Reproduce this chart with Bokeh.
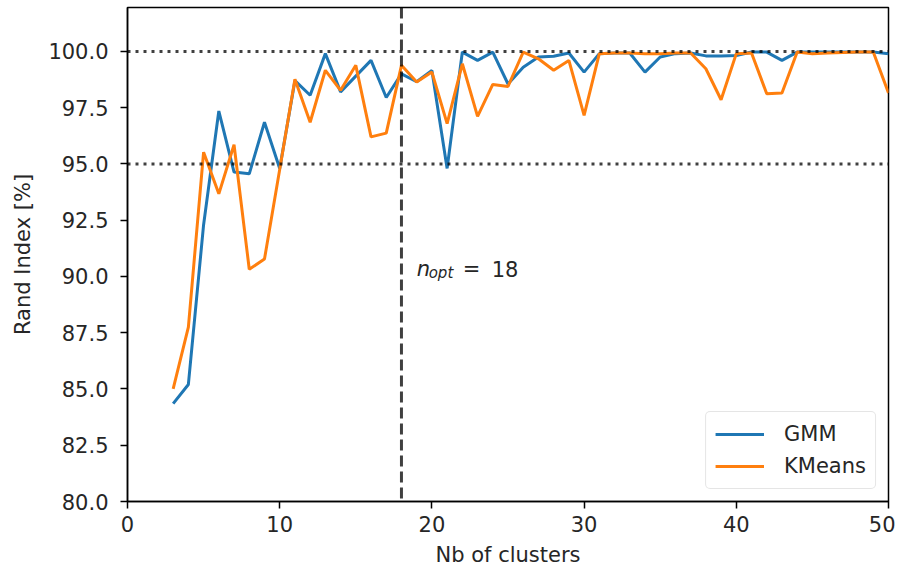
from bokeh.plotting import figure
from bokeh.models import Range1d, Span, Label, Legend, LegendItem, FixedTicker, NumeralTickFormatter, ColumnDataSource
from bokeh.embed import file_html
from bokeh.resources import INLINE

n_clusters = list(range(3, 51))
gmm = [84.35, 85.2, 92.3, 97.35, 94.64, 94.56, 96.85, 94.8, 98.7, 98.05,
       99.9, 98.2, 98.9, 99.6, 97.95, 99.0, 98.65, 99.15, 94.8, 99.97,
       99.6, 99.97, 98.55, 99.3, 99.75, 99.78, 99.93, 99.08, 99.9, 99.93,
       99.93, 99.08, 99.75, 99.9, 99.93, 99.8, 99.8, 99.82, 99.97, 99.97,
       99.6, 99.97, 99.97, 99.97, 99.97, 99.97, 99.97, 99.9]
kmeans = [85.0, 87.75, 95.52, 93.67, 95.85, 90.32, 90.77, 94.75, 98.76, 96.85,
          99.16, 98.27, 99.38, 96.2, 96.37, 99.38, 98.64, 99.08, 96.79, 99.45,
          97.11, 98.53, 98.44, 99.97, 99.67, 99.16, 99.6, 97.16, 99.9, 99.93,
          99.93, 99.9, 99.9, 99.93, 99.93, 99.23, 97.85, 99.9, 99.93, 98.12,
          98.15, 99.97, 99.9, 99.93, 99.95, 99.97, 99.97, 98.15]
x_ticks = [0, 10, 20, 30, 40, 50]
y_ticks = [80.0, 82.5, 85.0, 87.5, 90.0, 92.5, 95.0, 97.5, 100.0]
thresholds = [100.0, 95.0]
n_opt = 18

FONT = "DejaVu Sans"
FS = "21px"

p = figure(width=895, height=576, output_backend="svg", toolbar_location=None,
           x_range=Range1d(0, 50), y_range=Range1d(80, 101.95),
           min_border_left=127, min_border_right=7, min_border_top=7, min_border_bottom=75)
p.xgrid.visible = False
p.ygrid.visible = False
p.outline_line_color = "black"
p.outline_line_width = 1.5

src = ColumnDataSource(dict(n=n_clusters, gmm=gmm, km=kmeans))
r1 = p.line("n", "gmm", source=src, line_color="#1f77b4", line_width=3)
r2 = p.line("n", "km", source=src, line_color="#ff7f0e", line_width=3)

for t in thresholds:
    p.add_layout(Span(location=t, dimension="width", line_color="black", line_alpha=0.75,
                      line_width=3, line_dash="3 5"))
p.add_layout(Span(location=n_opt, dimension="height", line_color="black", line_alpha=0.75,
                  line_width=3, line_dash="11 5"))

for ax in (p.xaxis[0], p.yaxis[0]):
    ax.axis_line_color = "black"
    ax.axis_line_width = 1.5
    ax.major_tick_line_color = "black"
    ax.major_tick_line_width = 1.5
    ax.major_tick_out = 7
    ax.major_tick_in = 0
    ax.minor_tick_line_color = None
    ax.major_label_text_font = FONT
    ax.major_label_text_font_size = FS
    ax.major_label_text_color = "#262626"
    ax.axis_label_text_font = FONT
    ax.axis_label_text_font_size = FS
    ax.axis_label_text_font_style = "normal"
    ax.axis_label_text_color = "#262626"

p.xaxis.ticker = FixedTicker(ticks=x_ticks)
p.yaxis.ticker = FixedTicker(ticks=y_ticks)
p.yaxis.formatter = NumeralTickFormatter(format="0.0")
p.xaxis.major_label_standoff = 7
p.yaxis.major_label_standoff = 12
p.xaxis.axis_label = "Nb of clusters"
p.yaxis.axis_label = "Rand Index [%]"
p.xaxis.axis_label_standoff = 8
p.yaxis.axis_label_standoff = 10

# annotation n_opt = 18
lab_y = 90.0
p.add_layout(Label(x=n_opt + 1, y=lab_y, text="n", x_offset=0, y_offset=7, text_font=FONT,
                   text_font_style="italic", text_font_size=FS, text_color="#262626",
                   text_baseline="alphabetic"))
p.add_layout(Label(x=n_opt + 1, y=lab_y, text="opt", x_offset=12, y_offset=3, text_font=FONT,
                   text_font_style="italic", text_font_size="15px", text_color="#262626",
                   text_baseline="alphabetic"))
p.add_layout(Label(x=n_opt + 1, y=lab_y, text="=", x_offset=46, y_offset=7, text_font=FONT,
                   text_font_size=FS, text_color="#262626", text_baseline="alphabetic"))
p.add_layout(Label(x=n_opt + 1, y=lab_y, text=str(n_opt), x_offset=75, y_offset=7, text_font=FONT,
                   text_font_size=FS, text_color="#262626", text_baseline="alphabetic"))

legend = Legend(items=[LegendItem(label="GMM", renderers=[r1]),
                       LegendItem(label="KMeans", renderers=[r2])],
                location="bottom_right", margin=12, padding=9, spacing=6,
                glyph_width=49, glyph_height=26, label_standoff=20,
                label_text_font=FONT, label_text_font_size=FS, label_text_color="#262626",
                border_line_color="#cccccc", border_line_width=1.5,
                background_fill_alpha=0.8, border_radius=5)
p.add_layout(legend)

open("out.html", "w").write(file_html(p, INLINE))
